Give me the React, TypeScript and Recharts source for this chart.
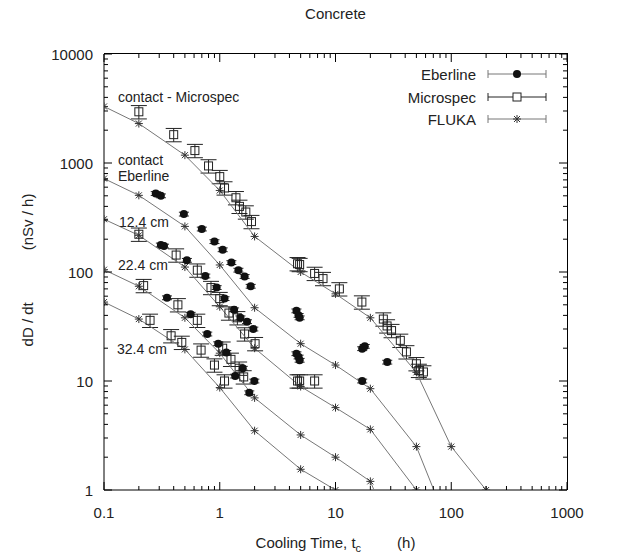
import React from 'react';
import { ScatterChart, Scatter, XAxis, YAxis, ErrorBar } from 'recharts';

// FLUKA simulation (hours -> nSv/h)
const FLUKA_TIMES = [0.1, 0.2, 0.5, 1, 2, 5, 10, 20, 50, 100, 200];
const flukaContactMicro = [3300, 2300, 1180, 560, 212, 100, 63, 38, 12, 2.5, 1.0];
const flukaContactEber = [720, 505, 262, 116, 47, 22, 14, 8.5, 2.5, 0.4];
const fluka124 = [305, 217, 111, 48, 20, 8.9, 5.7, 3.6, 1.0];
const fluka224 = [105, 74, 38, 18, 7, 3.2, 2.0, 1.2, 0.12];
const fluka324 = [53, 37, 19.5, 8.7, 3.5, 1.55, 1.0];

// Eberline measurements
const eberContactX = [0.28, 0.31, 0.49, 0.7, 0.9, 1.06, 1.26, 1.45, 1.64, 1.85, 4.6, 4.8, 4.9, 17, 17.9, 28];
const eberContactY = [525, 500, 340, 248, 190, 160, 122, 104, 91, 74, 44, 40, 38, 19.8, 20.8, 14.9];
const eber124X = [0.31, 0.33, 0.52, 0.75, 0.94, 1.1, 1.33, 1.51, 1.72, 1.95, 4.6, 4.8, 4.9, 17];
const eber124Y = [177, 173, 128, 92, 72, 57, 45, 38, 35, 30, 17.8, 16.6, 15.5, 10];
const eber224X = [0.35, 0.56, 0.78, 0.97, 1.14, 1.36, 1.58, 1.8, 1.99];
const eber224Y = [58, 41, 27, 22, 18.3, 11.1, 13.1, 7.8, 10];

// Microspec measurements
const microContactX = [0.2, 0.4, 0.61, 0.8, 1.0, 1.1, 1.38, 1.48, 1.68, 1.88, 4.7, 4.9, 6.6, 7.8, 10.8, 16.9, 25.9, 27.9, 30.5, 36.3, 41, 50, 52.5, 57.5];
const microContactY = [2950, 1820, 1300, 940, 750, 590, 480, 400, 355, 290, 119, 117, 97, 87, 70, 53, 37, 32, 29, 23.6, 18.5, 14.4, 12.5, 12.1];
const micro124X = [0.2, 0.42, 0.64, 0.84, 1.0, 1.2, 1.42, 1.64, 2.02, 4.7, 4.9, 6.6];
const micro124Y = [222, 143, 104, 72, 57, 42, 38, 27, 22, 10, 10, 10];
const micro224X = [0.22, 0.435, 0.64, 1.06, 1.25, 1.47];
const micro224Y = [75, 50, 36, 20, 15.8, 13.1];
const micro324X = [0.25, 0.38, 0.47, 0.69, 0.9, 1.1, 1.61];
const micro324Y = [36, 26, 22.6, 19.2, 14, 10, 10.9];

const EBER_REL_ERR = 0.04;
const MICRO_REL_ERR = 0.14;

const X_MAJOR = [0.1, 1, 10, 100, 1000];
const Y_MAJOR = [1, 10, 100, 1000, 10000];
const MINOR_MULT = [2, 3, 4, 5, 6, 7, 8, 9];

const minorTicks = (majors: number[]) => {
  const out: number[] = [...majors];
  majors.slice(0, -1).forEach((d) => MINOR_MULT.forEach((m) => out.push(d * m)));
  return out.sort((a, b) => a - b);
};
const X_TICKS = minorTicks(X_MAJOR);
const Y_TICKS = minorTicks(Y_MAJOR);

const toPoints = (xs: number[], ys: number[], rel = 0) =>
  ys.map((y, i) => ({ x: xs[i], y, err: y * rel }));

const eberData = [
  ...toPoints(eberContactX, eberContactY, EBER_REL_ERR),
  ...toPoints(eber124X, eber124Y, EBER_REL_ERR),
  ...toPoints(eber224X, eber224Y, EBER_REL_ERR),
];
const microData = [
  ...toPoints(microContactX, microContactY, MICRO_REL_ERR),
  ...toPoints(micro124X, micro124Y, MICRO_REL_ERR),
  ...toPoints(micro224X, micro224Y, MICRO_REL_ERR),
  ...toPoints(micro324X, micro324Y, MICRO_REL_ERR),
];
const flukaCurves = [flukaContactMicro, flukaContactEber, fluka124, fluka224, fluka324].map((ys) =>
  toPoints(FLUKA_TIMES, ys)
);

const FONT = '"Liberation Sans", Arial, Helvetica, sans-serif';
const TEXT = '#222';
const LINE = '#777';
const FRAME = '#000';
const MAJOR_LEN = 8;
const MINOR_LEN = 4;

// chart frame layout
const W = 619;
const H = 560;
const M_TOP = 54;
const M_RIGHT = 52;
const Y_AXIS_W = 104;
const X_AXIS_H = 70;
const PLOT_TOP = M_TOP;
const PLOT_RIGHT = W - M_RIGHT;
const PLOT_BOTTOM = H - X_AXIS_H;

const isMajor = (v: number, majors: number[]) => majors.some((m) => Math.abs(m - v) < m * 1e-6);

// bottom ticks, mirrored on the top edge
const BottomTick = (p: any) => {
  const major = isMajor(p.payload.value, X_MAJOR);
  const len = major ? MAJOR_LEN : MINOR_LEN;
  const top = p.y - (PLOT_BOTTOM - PLOT_TOP);
  return (
    <g>
      <path d={`M${p.x},${p.y}v${-len}M${p.x},${top}v${len}`} stroke={FRAME} fill="none" />
      {major && (
        <text x={p.x} y={p.y + 22} textAnchor="middle" dominantBaseline="central" fontSize={15} fill={TEXT} fontFamily={FONT}>
          {p.payload.value}
        </text>
      )}
    </g>
  );
};
// left ticks, mirrored on the right edge
const LeftTick = (p: any) => {
  const major = isMajor(p.payload.value, Y_MAJOR);
  const len = major ? MAJOR_LEN : MINOR_LEN;
  const right = p.x + (PLOT_RIGHT - Y_AXIS_W);
  return (
    <g>
      <path d={`M${p.x},${p.y}h${len}M${right},${p.y}h${-len}`} stroke={FRAME} fill="none" />
      {major && (
        <text x={p.x - 11} y={p.y} textAnchor="end" dominantBaseline="central" fontSize={15} fill={TEXT} fontFamily={FONT}>
          {p.payload.value}
        </text>
      )}
    </g>
  );
};

const Dot = (p: any) => <circle cx={p.cx} cy={p.cy} r={4} fill="#111" />;
const Square = (p: any) => (
  <rect x={p.cx - 4} y={p.cy - 4} width={8} height={8} fill="none" stroke="#222" strokeWidth={1} />
);
const Asterisk = (p: any) => (
  <g stroke="#333" strokeWidth={1}>
    <line x1={p.cx - 4} x2={p.cx + 4} y1={p.cy} y2={p.cy} />
    <line x1={p.cx} x2={p.cx} y1={p.cy - 4} y2={p.cy + 4} />
    <line x1={p.cx - 3} x2={p.cx + 3} y1={p.cy - 3} y2={p.cy + 3} />
    <line x1={p.cx - 3} x2={p.cx + 3} y1={p.cy + 3} y2={p.cy - 3} />
  </g>
);

const LegendSample = ({ kind, color }: { kind: string; color: string }) => (
  <svg width={60} height={12} style={{ display: 'block' }}>
    <line x1={1} x2={59} y1={6} y2={6} stroke={color} />
    <line x1={1} x2={1} y1={2} y2={10} stroke={color} />
    <line x1={59} x2={59} y1={2} y2={10} stroke={color} />
    {kind === 'dot' && <circle cx={30} cy={6} r={4} fill="#111" />}
    {kind === 'square' && <rect x={26} y={2} width={8} height={8} fill="#fff" stroke="#222" />}
    {kind === 'star' && <Asterisk cx={30} cy={6} />}
  </svg>
);

const label = (text: React.ReactNode, left: number, top: number, extra: React.CSSProperties = {}) => (
  <div style={{ position: 'absolute', left, top, fontSize: 14, color: TEXT, fontFamily: FONT, lineHeight: '16px', whiteSpace: 'nowrap', ...extra }}>
    {text}
  </div>
);

export default function App() {
  return (
    <div style={{ position: 'absolute', left: 0, top: 0, width: W, height: H, background: '#fff' }}>
      <ScatterChart width={W} height={H} margin={{ top: M_TOP, right: M_RIGHT, bottom: 0, left: 0 }}>
        <XAxis
          dataKey="x" type="number" scale="log" domain={[0.1, 1000]} allowDataOverflow
          ticks={X_TICKS} interval={0} tick={BottomTick} tickLine={false} tickSize={0} tickMargin={0}
          height={X_AXIS_H} axisLine={{ stroke: FRAME }}
        />
        <YAxis
          dataKey="y" type="number" scale="log" domain={[1, 10000]} allowDataOverflow
          ticks={Y_TICKS} interval={0} tick={LeftTick} tickLine={false} tickSize={0} tickMargin={0}
          width={Y_AXIS_W} axisLine={{ stroke: FRAME }}
        />
        {flukaCurves.map((pts, i) => (
          <Scatter
            key={`fluka-${i}`} data={pts} line={{ stroke: LINE, strokeWidth: 1 }}
            shape={Asterisk} isAnimationActive={false}
          />
        ))}
        <Scatter data={microData} shape={Square} isAnimationActive={false}>
          <ErrorBar dataKey="err" direction="y" width={8} stroke="#222" strokeWidth={1} />
        </Scatter>
        <Scatter data={eberData} shape={Dot} isAnimationActive={false}>
          <ErrorBar dataKey="err" direction="y" width={5} stroke="#222" strokeWidth={1} />
        </Scatter>
      </ScatterChart>

      {/* plot frame: top and right edges */}
      <div
        style={{
          position: 'absolute', left: Y_AXIS_W, top: PLOT_TOP - 1, width: PLOT_RIGHT - Y_AXIS_W + 1, height: PLOT_BOTTOM - PLOT_TOP + 1,
          borderTop: `1px solid ${FRAME}`, borderRight: `1px solid ${FRAME}`, boxSizing: 'border-box', pointerEvents: 'none',
        }}
      />

      {label('Concrete', 0, 6, { width: Y_AXIS_W + PLOT_RIGHT, textAlign: 'center', fontSize: 15 })}
      {label(
        <span>
          Cooling Time, t<sub style={{ fontSize: 11 }}>c</sub>
          <span style={{ marginLeft: 36 }}>(h)</span>
        </span>,
        0, 535, { width: Y_AXIS_W + PLOT_RIGHT, textAlign: 'center', fontSize: 15 }
      )}
      <div
        style={{
          position: 'absolute', left: 28 - 120, top: 270 - 10, width: 240, height: 20, lineHeight: '20px',
          textAlign: 'center', transform: 'rotate(-90deg)', fontSize: 15, color: TEXT, fontFamily: FONT, whiteSpace: 'nowrap',
        }}
      >
        dD / dt<span style={{ marginLeft: 52 }}>(nSv / h)</span>
      </div>

      {label('contact - Microspec', 118, 89)}
      {label('contact', 118, 152)}
      {label('Eberline', 118, 168)}
      {label('12.4 cm', 119, 214)}
      {label('22.4 cm', 118, 257)}
      {label('32.4 cm', 117, 341)}

      {[
        { name: 'Eberline', kind: 'dot', color: LINE, top: 66 },
        { name: 'Microspec', kind: 'square', color: '#222', top: 89 },
        { name: 'FLUKA', kind: 'star', color: LINE, top: 111 },
      ].map((r) => (
        <div key={r.name} style={{ position: 'absolute', left: 380, top: r.top, width: 170, height: 16, display: 'flex', alignItems: 'center' }}>
          <span style={{ width: 96, textAlign: 'right', fontSize: 15, color: TEXT, fontFamily: FONT }}>{r.name}</span>
          <span style={{ marginLeft: 11 }}>
            <LegendSample kind={r.kind} color={r.color} />
          </span>
        </div>
      ))}
    </div>
  );
}
